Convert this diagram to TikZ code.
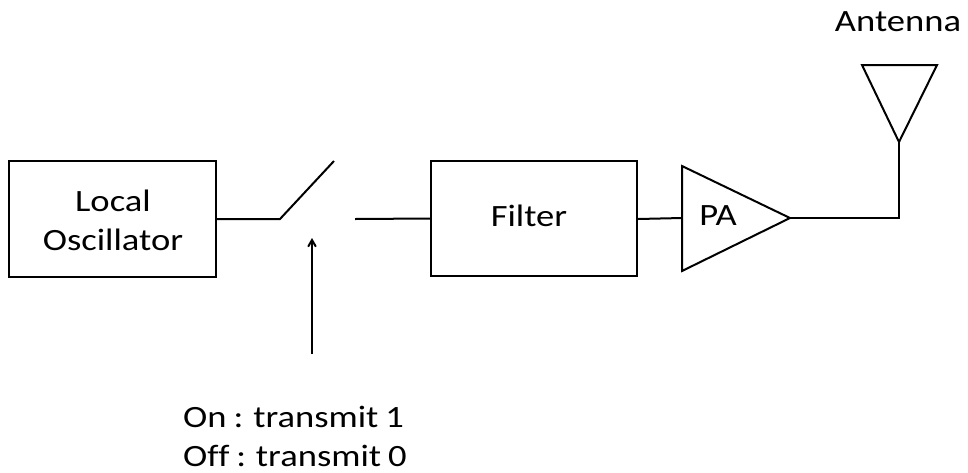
\documentclass[tikz,border=0pt]{standalone}
\usepackage{fontspec}
\newfontfamily\labelfont[FakeStretch=1.18,Ligatures=NoCommon,WordSpace=0.85]{Carlito}
\usetikzlibrary{positioning}
\usetikzlibrary{arrows}
\usetikzlibrary{calc}
\begin{document}
\begin{tikzpicture}[x=1pt,y=-1pt,>=angle 60,line width=2pt,
                    block node/.style={draw,rectangle,minimum width=206pt,minimum height=115pt},
                    text node/.style={font=\labelfont\fontsize{31}{39}\selectfont,align=left,inner sep=0pt}]
\useasboundingbox (0,0) rectangle (968,472);
\node[block node,minimum width=207pt,minimum height=116pt] (osc) at (112.5,219) {};
\node[text node,align=center] (osctext) at (113,220) {Local\\Oscillator};
\node[block node] (filter) at (534,218.5) {};
\node[text node] (filtertext) at (529,216) {Filter};
\coordinate (swl) at (280,219);
\coordinate (swt) at (334,161);
\coordinate (swr) at (355,219);
\draw (osc.east) -- (swl) -- (swt);
\draw (swr) -- (filter.west);
\coordinate (pa1) at (682,166);
\coordinate (pa2) at (682,271);
\coordinate (pa3) at (790,218);
\draw (pa1) -- (pa2) -- (pa3) -- cycle;
\node[text node] (palabel) at (718,216) {PA};
\draw (filter.east |- 0,219) -- (682,218);
\coordinate (ant) at (899,142);
\coordinate (ant1) at (862,65);
\coordinate (ant2) at (937,65);
\draw (ant1) -- (ant2) -- (ant) -- cycle;
\draw (pa3) -- (899,218) -- (ant);
\node[text node] (antlabel) at (898,22) {Antenna};
\node[text node] (ctrl) at (295,436) {On : transmit 1\\Off : transmit 0};
\coordinate (arrowtop) at (312,238);
\coordinate (arrowbot) at (312,354);
\draw[->] (arrowbot) -- (arrowtop);
\end{tikzpicture}
\end{document}
